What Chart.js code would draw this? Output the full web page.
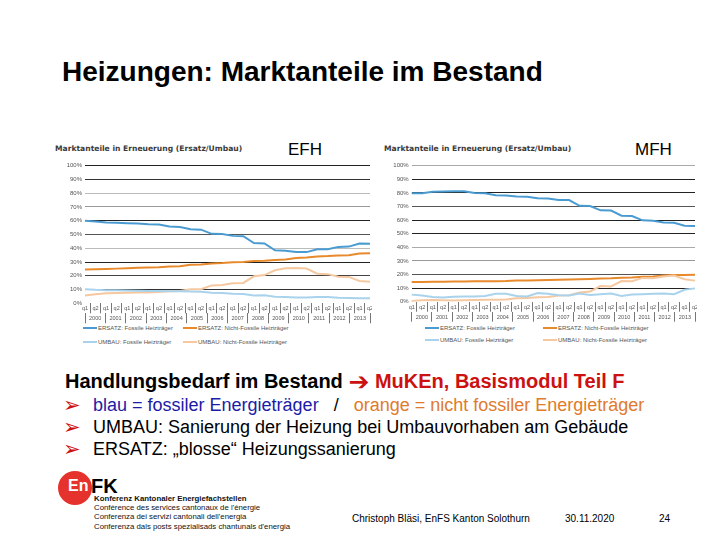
<!DOCTYPE html>
<html>
<head>
<meta charset="utf-8">
<script src="https://cdn.jsdelivr.net/npm/chart.js@4"></script>
<style>
  html, body { margin:0; padding:0; background:#fff; }
  body { width:720px; height:540px; position:relative; overflow:hidden; font-family:'Liberation Sans', Arial, sans-serif; }
  .abs { position:absolute; white-space:nowrap; }
  canvas { position:absolute; }
  .ctitle { font-family:'DejaVu Sans', sans-serif; font-weight:bold; font-size:7.6px; line-height:9px; color:#3a3a3a; }
  .tag { font-size:17px; line-height:17px; color:#000; }
  .leg { position:absolute; font-size:6px; line-height:6px; color:#555; white-space:nowrap; }
  .leg i { display:inline-block; width:14px; height:2px; vertical-align:middle; margin-right:1px; }
  .bul { font-size:18px; line-height:18px; }
  .arrow { color:#cc1111; font-family:'DejaVu Sans', sans-serif; font-size:21px; line-height:18px; position:absolute; left:-30px; top:0px; }
  .logo { font-size:7.8px; line-height:9.2px; color:#111; }
</style>
</head>
<body>
<div class="abs" style="left:62px;top:58px;font-size:28px;line-height:28px;font-weight:bold;color:#000;">Heizungen: Marktanteile im Bestand</div>

<div class="abs ctitle" style="left:55px;top:144px;">Marktanteile in Erneuerung (Ersatz/Umbau)</div>
<div class="abs tag" style="left:288px;top:141px;">EFH</div>
<div class="abs ctitle" style="left:384px;top:144px;">Marktanteile in Erneuerung (Ersatz/Umbau)</div>
<div class="abs tag" style="left:635px;top:141px;">MFH</div>

<canvas id="efh" width="317" height="170" style="left:55px;top:155px;"></canvas>
<canvas id="mfh" width="317" height="168" style="left:380px;top:155px;"></canvas>

<div id="legEfh"></div>
<div id="legMfh"></div>

<div class="abs" style="left:65px;top:371px;font-size:20px;line-height:20px;font-weight:bold;color:#000;">Handlungsbedarf im Bestand <span style="color:#cc1111;font-family:'DejaVu Sans',sans-serif;font-size:25px;line-height:10px;vertical-align:-2px;">&#10132;</span><span style="color:#cc1111;"> MuKEn, Basismodul Teil F</span></div>
<div class="abs bul" style="left:93px;top:396px;"><span class="arrow">&#10146;</span><span style="color:#1c1ca6;">blau = fossiler Energieträger</span>&nbsp;&nbsp;&nbsp;<span style="color:#000;">/</span>&nbsp;&nbsp;&nbsp;<span style="color:#e07b2c;">orange = nicht fossiler Energieträger</span></div>
<div class="abs bul" style="left:93px;top:418px;color:#000;"><span class="arrow">&#10146;</span>UMBAU: Sanierung der Heizung bei Umbauvorhaben am Gebäude</div>
<div class="abs bul" style="left:93px;top:440px;color:#000;"><span class="arrow">&#10146;</span>ERSATZ: „blosse“ Heizungssanierung</div>

<div class="abs" style="left:58px;top:471px;width:34px;height:34px;border-radius:50%;background:#e5322d;"></div>
<div class="abs" style="left:68px;top:478px;font-size:16px;line-height:16px;font-weight:bold;color:#fff;">En</div>
<div class="abs" style="left:91px;top:476px;font-size:20px;line-height:20px;font-weight:bold;color:#000;">FK</div>
<div class="abs logo" style="left:94px;top:494px;">
  <div style="font-weight:bold;">Konferenz Kantonaler Energiefachstellen</div>
  <div>Conférence des services cantonaux de l'énergie</div>
  <div>Conferenza dei servizi cantonali dell'energia</div>
  <div>Conferenza dals posts spezialisads chantunals d'energia</div>
</div>

<div class="abs" style="left:352px;top:514px;font-size:10px;line-height:10px;color:#000;">Christoph Bläsi, EnFS Kanton Solothurn</div>
<div class="abs" style="left:565px;top:514px;font-size:10px;line-height:10px;color:#000;">30.11.2020</div>
<div class="abs" style="left:659px;top:514px;font-size:10px;line-height:10px;color:#000;">24</div>

<script>
// ---- data ----
const halfYears = ["q1","q2","q1","q2","q1","q2","q1","q2","q1","q2","q1","q2","q1","q2",
                   "q1","q2","q1","q2","q1","q2","q1","q2","q1","q2","q1","q2","q1","q2"];
const years = ["2000","2001","2002","2003","2004","2005","2006","2007","2008","2009","2010","2011","2012","2013"];
const yTicks = [0,10,20,30,40,50,60,70,80,90,100];
const seriesNames = ["ERSATZ: Fossile Heizträger","ERSATZ: Nicht-Fossile Heizträger","UMBAU: Fossile Heizträger","UMBAU: Nicht-Fossile Heizträger"];

const efhErsatzFossil      = [60,59.5,58.8,58.5,58.2,58,57.5,57.3,55.8,55.5,53.8,53.5,50.5,50.3,49,48.8,43.8,43.5,38.5,38.2,37.2,37.2,39.3,39.3,41,41.2,43.4,43.2];
const efhErsatzNichtFossil = [24.5,24.7,25,25.2,25.5,25.8,26,26.2,26.8,27,28,28.2,29,29.3,29.8,30,30.8,31,31.5,31.8,33,33.3,34,34.3,34.8,35,36.2,36.3];
const efhUmbauFossil       = [10.3,9.8,9.5,9.5,9.3,9.2,9,8.9,8.8,8.7,8.5,8.4,7.6,7.4,7,6.8,5.6,5.8,4.8,4.5,4.3,4.2,4.5,4.6,4,3.8,3.7,3.6];
const efhUmbauNichtFossil  = [5.6,6.5,7.3,7.5,7.6,7.8,7.8,8.2,8.8,9,10.2,10.2,13,13.3,14.5,14.8,19.6,20.5,24,25.4,25.6,25.3,21.5,21.2,19.3,19.2,16.2,15.7];

const mfhErsatzFossil      = [79.7,79.8,80.8,81,81.2,81.2,80,79.8,78.2,78,77.3,77.2,76,75.8,74.8,74.7,70.5,70.3,67.2,67,63.2,63,59.8,59.6,58.3,58,55.8,55.6];
const mfhErsatzNichtFossil = [14.5,14.5,14.6,14.7,14.8,14.9,15,15,15.1,15.2,15.5,15.6,15.8,16,16.2,16.3,16.5,16.7,17,17.2,17.6,17.8,18.3,18.6,19.2,19.6,19.7,19.8];
const mfhUmbauFossil       = [5.2,4.5,3.5,3.0,3.6,3.8,3.8,4.2,5.8,5.8,4.2,3.8,6.3,5.8,4.8,4.5,6.0,5.0,5.5,6.0,4.2,5.3,5.5,5.8,6.0,5.5,8.8,9.8];
const mfhUmbauNichtFossil  = [0.5,1,1.2,1.0,0.8,1.0,1.2,1.4,1.5,1.6,2.5,2.8,3.2,3.5,4.5,4.8,6.8,7.5,11.5,11.2,15.2,15.0,17.5,17.3,18.5,19.3,16.5,15.5];

// ---- styles ----
const colors = ['#4a9bd1', '#e8892b', '#a9d3ec', '#f6c8a0'];
const efhGrid = ['rgba(0,0,0,0)','#333','#444','#222','#bbb','#555','#222','#999','#bbb','#333','#222'];
const mfhGrid = ['rgba(0,0,0,0)','#222','#555','#999','#aaa','#222','#222','#555','#222','#222','#aaa'];

function makeChart(id, data, gridCols, yWidth, padBottom) {
  const order = [2,3,1,0];
  const datasets = order.map(i => ({
    label: seriesNames[i],
    data: data[i],
    borderColor: colors[i],
    backgroundColor: colors[i],
    borderWidth: 2,
    pointRadius: 0,
    tension: 0,
    fill: false
  }));
  const tickFont = { family: "'Liberation Sans', Arial, sans-serif", size: 5.5 };
  return new Chart(document.getElementById(id), {
    type: 'line',
    data: { labels: halfYears, datasets },
    options: {
      responsive: false,
      animation: false,
      devicePixelRatio: 1,
      layout: { padding: { top: 10.7, right: 2, bottom: padBottom, left: 0 } },
      plugins: { legend: { display: false }, tooltip: { enabled: false } },
      scales: {
        y: {
          min: 0, max: 100,
          afterBuildTicks: s => { s.ticks = yTicks.map(v => ({ value: v })); },
          ticks: { callback: v => v + '%', font: { family: "'Liberation Sans', Arial, sans-serif", size: 6 }, color: '#555', padding: 3 },
          grid: { color: ctx => gridCols[ctx.index] || '#999', drawTicks: false, lineWidth: 1 },
          border: { display: false },
          afterFit: s => { s.width = yWidth; }
        },
        x: {
          ticks: { font: tickFont, color: '#555', padding: -8, autoSkip: false, maxRotation: 0 },
          grid: { offset: true, drawOnChartArea: false, drawTicks: true, tickLength: 10, color: '#777' },
          border: { display: false },
          afterFit: s => { s.height = 10; }
        },
        x2: {
          type: 'category',
          labels: years,
          position: 'bottom',
          offset: true,
          ticks: { font: tickFont, color: '#555', padding: -8, autoSkip: false, maxRotation: 0 },
          grid: { offset: true, drawOnChartArea: false, drawTicks: true, tickLength: 10, color: '#777' },
          border: { display: false },
          afterFit: s => { s.height = 10; }
        }
      }
    }
  });
}

makeChart('efh', [efhErsatzFossil, efhErsatzNichtFossil, efhUmbauFossil, efhUmbauNichtFossil], efhGrid, 30, 1.7);
makeChart('mfh', [mfhErsatzFossil, mfhErsatzNichtFossil, mfhUmbauFossil, mfhUmbauNichtFossil], mfhGrid, 31.7, 1.3);

// ---- legends (HTML) ----
function legend(containerId, positions) {
  const c = document.getElementById(containerId);
  positions.forEach((p, i) => {
    const d = document.createElement('div');
    d.className = 'leg';
    d.style.left = p[0] + 'px';
    d.style.top = (p[1] - 3) + 'px';
    d.innerHTML = '<i style="background:' + colors[i] + '"></i>' + seriesNames[i];
    c.appendChild(d);
  });
}
legend('legEfh', [[83,328],[183,328],[83,342],[183,342]]);
legend('legMfh', [[425,328],[543,328],[425,340],[543,340]]);
</script>
</body>
</html>
